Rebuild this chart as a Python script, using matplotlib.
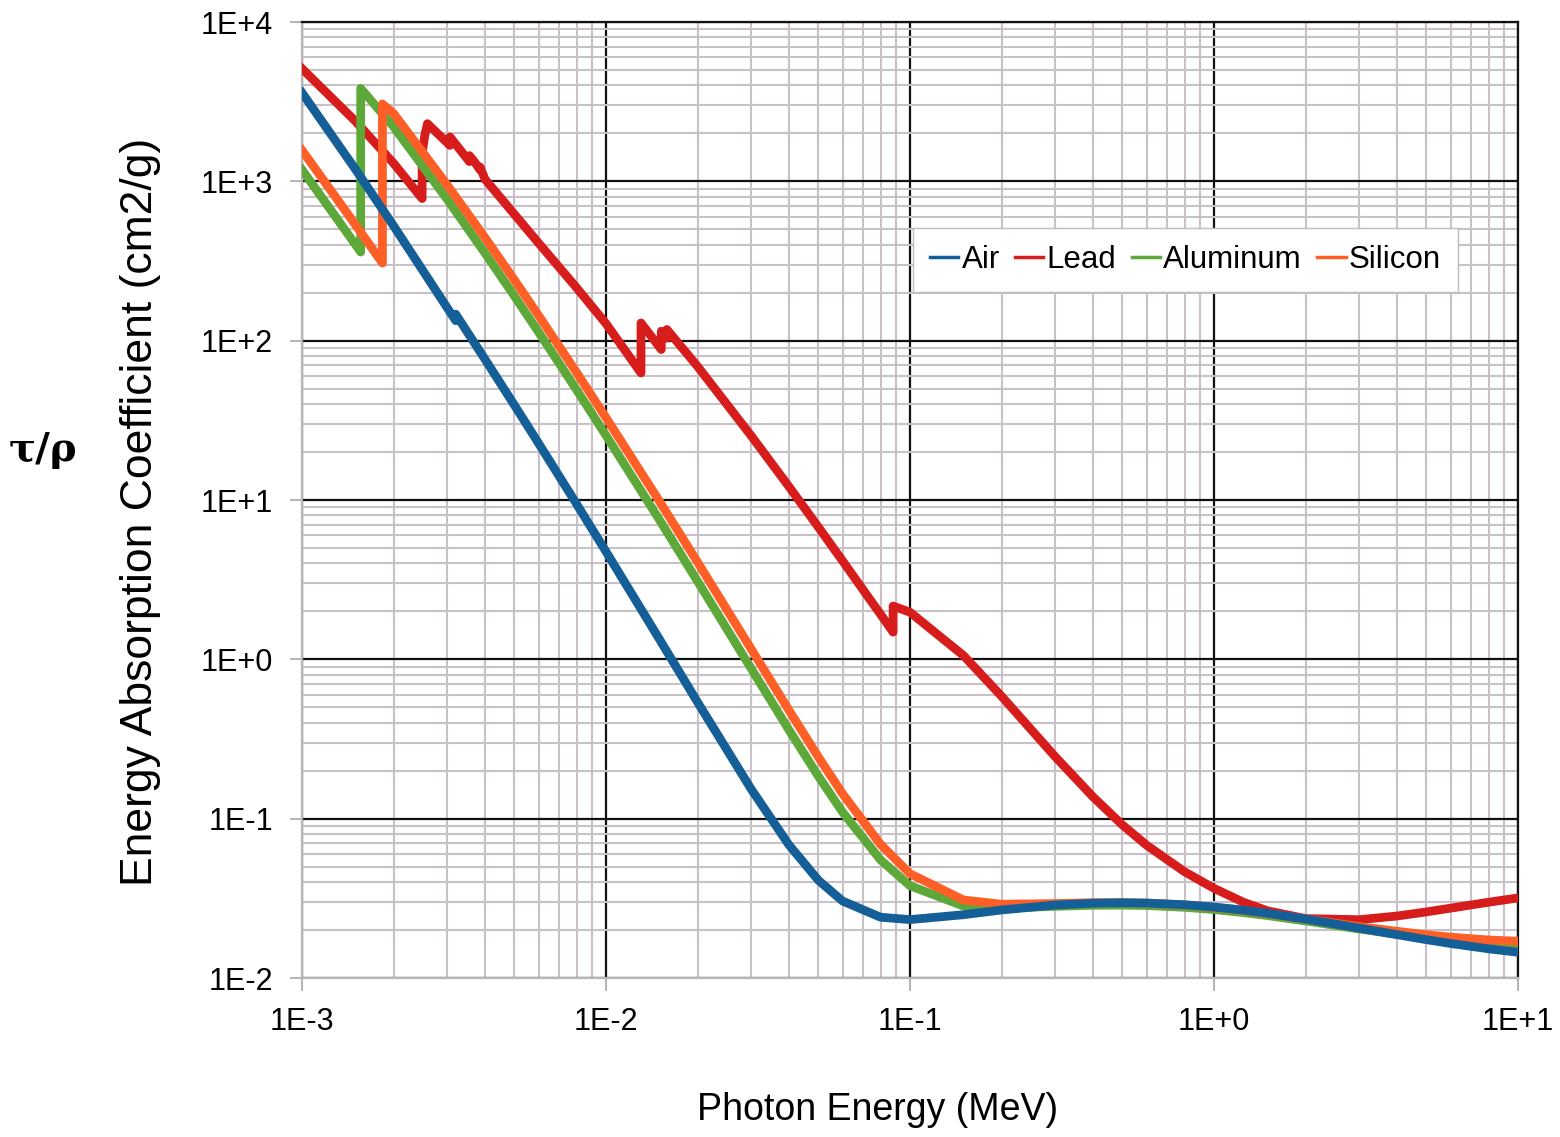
import matplotlib
matplotlib.use("Agg")
import matplotlib.pyplot as plt
from matplotlib.ticker import FixedLocator, FixedFormatter, LogLocator, NullFormatter

# photon energy (MeV) and mass energy-absorption coefficients (cm2/g)
air_e = [1e-3, 1.5e-3, 2e-3, 3e-3, 3.2029e-3, 3.2029e-3, 4e-3, 5e-3, 6e-3, 8e-3,
         1e-2, 1.5e-2, 2e-2, 3e-2, 4e-2, 5e-2, 6e-2, 8e-2, 1e-1, 1.5e-1, 2e-1,
         3e-1, 4e-1, 5e-1, 6e-1, 8e-1, 1.0, 1.25, 1.5, 2.0, 3.0, 4.0, 5.0, 6.0, 8.0, 10.0]
air_v = [3599, 1188, 526.2, 161.4, 133.6, 146.7, 76.36, 39.31, 22.70, 9.446,
         4.742, 1.334, 0.5389, 0.1537, 0.06833, 0.04098, 0.03041, 0.02407, 0.02325, 0.02496, 0.02672,
         0.02872, 0.02949, 0.02966, 0.02953, 0.02882, 0.02789, 0.02666, 0.02547, 0.02345, 0.02057,
         0.01870, 0.01740, 0.01647, 0.01525, 0.01450]

lead_e = [1e-3, 1.5e-3, 2e-3, 2.484e-3, 2.484e-3, 2.5354e-3, 2.586e-3, 2.586e-3, 3e-3,
          3.0664e-3, 3.0664e-3, 3.5542e-3, 3.5542e-3, 3.7e-3, 3.8507e-3, 3.8507e-3, 4e-3,
          5e-3, 6e-3, 8e-3, 1e-2, 1.30352e-2, 1.30352e-2, 1.5e-2, 1.52e-2, 1.52e-2,
          1.55269e-2, 1.58608e-2, 1.58608e-2, 2e-2, 3e-2, 4e-2, 5e-2, 6e-2, 8e-2,
          8.8004e-2, 8.8004e-2, 1e-1, 1.5e-1, 2e-1, 3e-1, 4e-1, 5e-1, 6e-1, 8e-1,
          1.0, 1.25, 1.5, 2.0, 3.0, 4.0, 5.0, 6.0, 8.0, 10.0]
lead_v = [5100, 2380, 1300, 780, 1500, 1950, 2300, 2300, 1750,
          1680, 1900, 1330, 1450, 1320, 1180, 1230, 1030,
          620, 410, 215, 128, 62.70, 129.1, 91.00, 88.00, 114.6,
          109.3, 103.7, 117.5, 68.99, 25.36, 12.11, 6.740, 4.149, 1.916,
          1.482, 2.160, 1.976, 1.056, 0.5870, 0.2455, 0.1370, 0.09128, 0.06819, 0.04644,
          0.03654, 0.02988, 0.02640, 0.02360, 0.02322, 0.02449, 0.02600, 0.02744, 0.02989, 0.03181]

al_e = [1e-3, 1.5e-3, 1.5596e-3, 1.5596e-3, 2e-3, 3e-3, 4e-3, 5e-3, 6e-3, 8e-3,
        1e-2, 1.5e-2, 2e-2, 3e-2, 4e-2, 5e-2, 6e-2, 8e-2, 1e-1, 1.5e-1, 2e-1,
        3e-1, 4e-1, 5e-1, 6e-1, 8e-1, 1.0, 1.25, 1.5, 2.0, 3.0, 4.0, 5.0, 6.0, 8.0, 10.0]
al_v = [1183, 400.1, 360.0, 3829, 2204, 773.2, 354.5, 190.2, 113.3, 49.18,
        25.43, 7.487, 3.094, 0.8778, 0.3601, 0.1840, 0.1099, 0.05511, 0.03794, 0.02827, 0.02745,
        0.02816, 0.02862, 0.02868, 0.02851, 0.02778, 0.02689, 0.02573, 0.02465, 0.02281, 0.02031,
        0.01882, 0.01784, 0.01715, 0.01632, 0.01588]

si_e = [1e-3, 1.5e-3, 1.8389e-3, 1.8389e-3, 2e-3, 3e-3, 4e-3, 5e-3, 6e-3, 8e-3,
        1e-2, 1.5e-2, 2e-2, 3e-2, 4e-2, 5e-2, 6e-2, 8e-2, 1e-1, 1.5e-1, 2e-1,
        3e-1, 4e-1, 5e-1, 6e-1, 8e-1, 1.0, 1.25, 1.5, 2.0, 3.0, 4.0, 5.0, 6.0, 8.0, 10.0]
si_v = [1567, 533.1, 307.0, 3059, 2669, 951.6, 442.7, 240.0, 143.9, 63.13,
        32.89, 9.794, 4.076, 1.164, 0.4782, 0.2430, 0.1434, 0.06896, 0.04513, 0.03086, 0.02905,
        0.02932, 0.02968, 0.02971, 0.02951, 0.02875, 0.02778, 0.02652, 0.02535, 0.02345, 0.02101,
        0.01963, 0.01867, 0.01804, 0.01732, 0.01701]

xticks = [1e-3, 1e-2, 1e-1, 1e0, 1e1]
xlabels = ["1E-3", "1E-2", "1E-1", "1E+0", "1E+1"]
yticks = [1e-2, 1e-1, 1e0, 1e1, 1e2, 1e3, 1e4]
ylabels = ["1E-2", "1E-1", "1E+0", "1E+1", "1E+2", "1E+3", "1E+4"]

plt.rcParams["font.family"] = ["Liberation Sans", "DejaVu Sans"]

fig = plt.figure(figsize=(15.6, 11.37), dpi=100)
ax = fig.add_axes([302/1560, 1 - 978/1137, 1216/1560, 956/1137])

lw = 6.3
ax.plot(lead_e, lead_v, color="#d71c1c", lw=lw, label="Lead", zorder=3)
ax.plot(al_e, al_v, color="#5ea83a", lw=lw, label="Aluminum", zorder=4)
ax.plot(si_e, si_v, color="#fd5f27", lw=lw, label="Silicon", zorder=5)
ax.plot(air_e, air_v, color="#145f98", lw=lw, label="Air", zorder=6)

ax.set_xscale("log")
ax.set_yscale("log")
ax.set_xlim(1e-3, 1e1)
ax.set_ylim(1e-2, 1e4)

ax.xaxis.set_major_locator(FixedLocator(xticks))
ax.xaxis.set_major_formatter(FixedFormatter(xlabels))
ax.yaxis.set_major_locator(FixedLocator(yticks))
ax.yaxis.set_major_formatter(FixedFormatter(ylabels))
ax.xaxis.set_minor_locator(LogLocator(base=10, subs=range(2, 10), numticks=20))
ax.yaxis.set_minor_locator(LogLocator(base=10, subs=range(2, 10), numticks=20))
ax.xaxis.set_minor_formatter(NullFormatter())
ax.yaxis.set_minor_formatter(NullFormatter())

ax.grid(which="major", color="#111111", lw=1.6, zorder=1)
ax.grid(which="minor", color="#c8c2c8", lw=1.5, zorder=0)
ax.set_axisbelow(True)

ax.tick_params(which="major", length=9, width=1.5, color="#b8b4b8", pad=12, labelsize=22)
ax.tick_params(which="minor", length=0)

for s in ["left", "bottom"]:
    ax.spines[s].set_color("#b8b4b8")
    ax.spines[s].set_linewidth(1.6)
for s in ["top", "right"]:
    ax.spines[s].set_color("#111111")
    ax.spines[s].set_linewidth(1.6)

fig.text(878/1560, 1 - 1110/1137, "Photon Energy (MeV)", fontsize=27,
         ha="center", va="center")
fig.text(141/1560, 1 - 512/1137, "Energy Absorption Coefficient (cm2/g)", fontsize=32,
         ha="center", va="center", rotation=90)
fig.text(43/1560, 1 - 450/1137, "τ/ρ", fontsize=29, fontweight="bold",
         family=["DejaVu Serif"], ha="center", va="center")

handles, labels = ax.get_legend_handles_labels()
order = [3, 0, 1, 2]
leg = ax.legend([handles[i] for i in order], [labels[i] for i in order],
                loc="upper left", bbox_to_anchor=((913 - 302) / 1216, (978 - 228) / 956),
                borderaxespad=0, ncol=4, handlelength=0.9, handletextpad=0.1,
                columnspacing=0.5, borderpad=0.55, fancybox=False, framealpha=1,
                edgecolor="#c0bcc0", fontsize=22.5)
for h in leg.get_lines():
    h.set_linewidth(2.5)
leg.set_zorder(10)

fig.savefig("out.png", dpi=100)
